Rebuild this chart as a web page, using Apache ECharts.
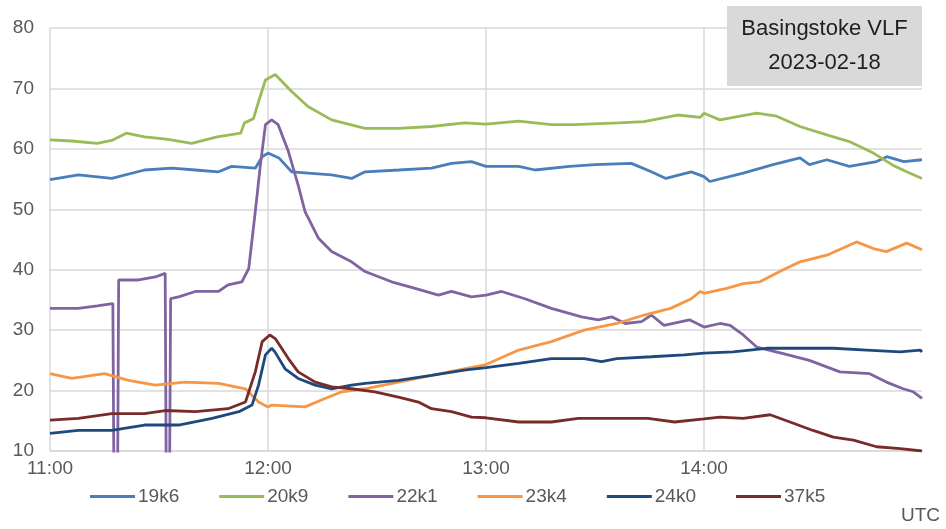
<!DOCTYPE html>
<html>
<head>
<meta charset="utf-8">
<script src="https://cdn.jsdelivr.net/npm/echarts@6/dist/echarts.min.js"></script>
<style>
html,body{margin:0;padding:0;background:#fff;}
#chart{width:946px;height:529px;}
</style>
</head>
<body>
<div id="chart"></div>
<script>
// Time in minutes after 11:00 UTC, value in dB
const hourTicks = ['11:00', '12:00', '13:00', '14:00', '15:00'];
const seriesNames = ['19k6', '20k9', '22k1', '23k4', '24k0', '37k5'];

const s19k6 = [[0,54.9],[7.8,55.7],[17,55.1],[26,56.5],[33.5,56.8],[40,56.5],[46.4,56.2],[50,57.1],[56.5,56.8],[58.4,58.7],[60,59.3],[60.5,59.0],[63,58.5],[66.5,56.2],[77.5,55.7],[83,55.1],[86.7,56.2],[96,56.5],[105,56.8],[110.5,57.6],[116,57.9],[120,57.1],[129,57.1],[133.5,56.5],[143,57.1],[150,57.4],[160,57.6],[165.5,56.2],[169.5,55.1],[176.5,56.2],[180,55.4],[181.6,54.6],[190.8,56.0],[199,57.4],[206.4,58.5],[209,57.4],[213.8,58.2],[220,57.1],[227.5,57.9],[230.3,58.7],[235,57.9],[240,58.2]];

const s20k9 = [[0,61.5],[6,61.3],[13,60.9],[17,61.4],[21,62.6],[26,62.0],[32,61.6],[39,60.9],[46,62.0],[52.5,62.6],[53.5,64.3],[56,65.0],[57.5,68.0],[59.3,71.4],[62,72.3],[66.5,69.5],[71,67.0],[77.5,64.8],[86.7,63.4],[96,63.4],[105,63.7],[114,64.3],[120,64.1],[129,64.6],[138,64.0],[144.5,64.0],[156.4,64.3],[163.5,64.5],[172.7,65.6],[179,65.2],[180,65.9],[184.4,64.8],[194.5,65.9],[200,65.4],[206.4,63.7],[213.8,62.3],[220,61.2],[226.6,59.3],[232,57.3],[235.8,56.2],[240,55.1]];

const s22k1 = [[0,33.6],[7.8,33.6],[13,34.0],[17.3,34.4],[17.6,5],[18.6,5],[18.9,38.3],[24.4,38.3],[29,38.8],[31.7,39.4],[32.0,5],[32.9,5],[33.2,35.2],[35.4,35.5],[40,36.4],[46.4,36.4],[49,37.5],[52.8,38.0],[54.7,40.2],[56.5,49.6],[57.9,57.3],[59.3,64.0],[61,64.8],[62.8,64.0],[65.6,59.6],[68.3,54.0],[70.2,49.6],[73.9,45.2],[77.5,43.0],[83,41.3],[86.7,39.7],[94,38.0],[100.5,36.9],[106.9,35.8],[110.5,36.4],[116,35.5],[120,35.8],[124.3,36.4],[130.7,35.2],[138,33.6],[146.3,32.2],[150.9,31.7],[154.6,32.2],[158.3,31.1],[162.8,31.4],[165.5,32.5],[169,30.8],[176,31.7],[180,30.5],[184.4,31.1],[187.2,30.8],[190.8,29.2],[194.5,27.2],[201.8,26.1],[209,25.0],[217.4,23.1],[225.6,22.8],[230.2,21.4],[234.8,20.3],[237.6,19.8],[240,18.7]];

const s23k4 = [[0,22.8],[6,22.0],[15,22.8],[21.6,21.7],[29,20.9],[37.2,21.4],[46.4,21.2],[53.8,20.3],[57.4,18.1],[60,17.3],[61,17.6],[70.2,17.3],[75.7,18.7],[80.3,19.8],[86.7,20.3],[95.9,21.4],[105,22.5],[114,23.6],[120,24.3],[129,26.7],[138,28.1],[147,30.0],[156,31.1],[163.5,32.5],[170.8,33.6],[176.5,35.2],[179,36.4],[180,36.1],[186.2,36.9],[190.8,37.7],[195.4,38.0],[201.8,40.0],[206.4,41.3],[213.8,42.4],[222,44.6],[226.6,43.5],[230.2,43.0],[235.8,44.4],[240,43.3]];

const s24k0 = [[0,12.9],[7.8,13.4],[17,13.4],[26,14.3],[35.4,14.3],[44.6,15.4],[52,16.5],[55.6,17.6],[57.4,20.9],[59.3,25.9],[61,27.0],[61.9,26.4],[64.7,23.6],[68.3,22.0],[73,20.9],[77.5,20.3],[83,20.9],[86.7,21.2],[95.9,21.7],[105,22.5],[114,23.4],[120,23.8],[129,24.5],[138,25.3],[147,25.3],[151.8,24.8],[156,25.3],[165.5,25.6],[174.6,25.9],[180,26.2],[188,26.4],[197.2,27.0],[206.4,27.0],[215.6,27.0],[224.8,26.7],[234,26.4],[239.5,26.7],[240,26.4]];

const s37k5 = [[0,15.1],[7.8,15.4],[17,16.2],[26,16.2],[31.7,16.7],[40,16.5],[49,17.0],[53.8,18.1],[56.5,23.1],[58.4,28.1],[60.5,29.2],[62,28.6],[65.6,25.3],[68.3,23.1],[73,21.4],[77.5,20.6],[83,20.3],[89.4,19.8],[95.9,18.9],[101.4,18.1],[105,17.0],[110.5,16.5],[116,15.6],[120,15.5],[129,14.8],[138,14.8],[145.4,15.4],[154.6,15.4],[164.6,15.4],[171.9,14.8],[180,15.3],[184.4,15.6],[190.8,15.4],[198.2,16.0],[204.6,14.6],[210,13.4],[215.6,12.3],[221.1,11.8],[227.5,10.7],[234,10.4],[240,10.0]];

const seriesData = [s19k6, s20k9, s22k1, s23k4, s24k0, s37k5];
const colors = ['#4a7ebb', '#9bbb59', '#8064a2', '#f79646', '#1f497d', '#772c2a'];

const FONT = 'Liberation Sans, Arial, sans-serif';
const chart = echarts.init(document.getElementById('chart'), null, {renderer: 'canvas'});
chart.setOption({
  animation: false,
  backgroundColor: '#ffffff',
  color: colors,
  grid: {left: 50, right: 24, top: 28, bottom: 78},
  xAxis: {
    type: 'value', min: 0, max: 240, interval: 60,
    axisLine: {show: true, lineStyle: {color: '#d9d9d9', width: 1.5}},
    axisTick: {show: false},
    axisLabel: {
      color: '#595959', fontSize: 19, fontFamily: FONT, margin: 8,
      showMaxLabel: false,
      formatter: v => hourTicks[Math.round(v / 60)]
    },
    splitLine: {show: true, showMaxLine: false, lineStyle: {color: '#d9d9d9', width: 1.5}}
  },
  yAxis: {
    type: 'value', min: 10, max: 80, interval: 10,
    axisLine: {show: false}, axisTick: {show: false},
    axisLabel: {color: '#595959', fontSize: 19, fontFamily: FONT, margin: 16},
    splitLine: {lineStyle: {color: '#d9d9d9', width: 1.5}}
  },
  legend: {
    left: 85, top: 482,
    icon: 'rect',
    itemWidth: 45, itemHeight: 3, itemGap: 40,
    textStyle: {color: '#595959', fontSize: 19, fontFamily: FONT, padding: [0,0,0,-2]},
    data: seriesNames
  },
  graphic: [
    {
      type: 'group', right: 24, top: 6, zlevel: 1, z: 100,
      children: [
        {type: 'rect', zlevel: 1, z: 100, shape: {x: 0, y: 0, width: 195, height: 80}, style: {fill: '#d9d9d9'}},
        {type: 'text', zlevel: 1, z: 101, x: 97.5, y: 40, style: {
          text: 'Basingstoke VLF\n2023-02-18', align: 'center', verticalAlign: 'middle',
          font: '22px ' + FONT, lineHeight: 34, fill: '#1f1f1f'}}
      ]
    },
    {type: 'text', right: 6, bottom: 4, style: {text: 'UTC', font: '19px ' + FONT, fill: '#595959'}}
  ],
  series: seriesNames.map((n, i) => ({
    name: n, type: 'line', data: seriesData[i],
    symbol: 'none', showSymbol: false, clip: true,
    lineStyle: {width: 2.8, color: colors[i]},
    itemStyle: {color: colors[i]}
  }))
});
</script>
</body>
</html>
